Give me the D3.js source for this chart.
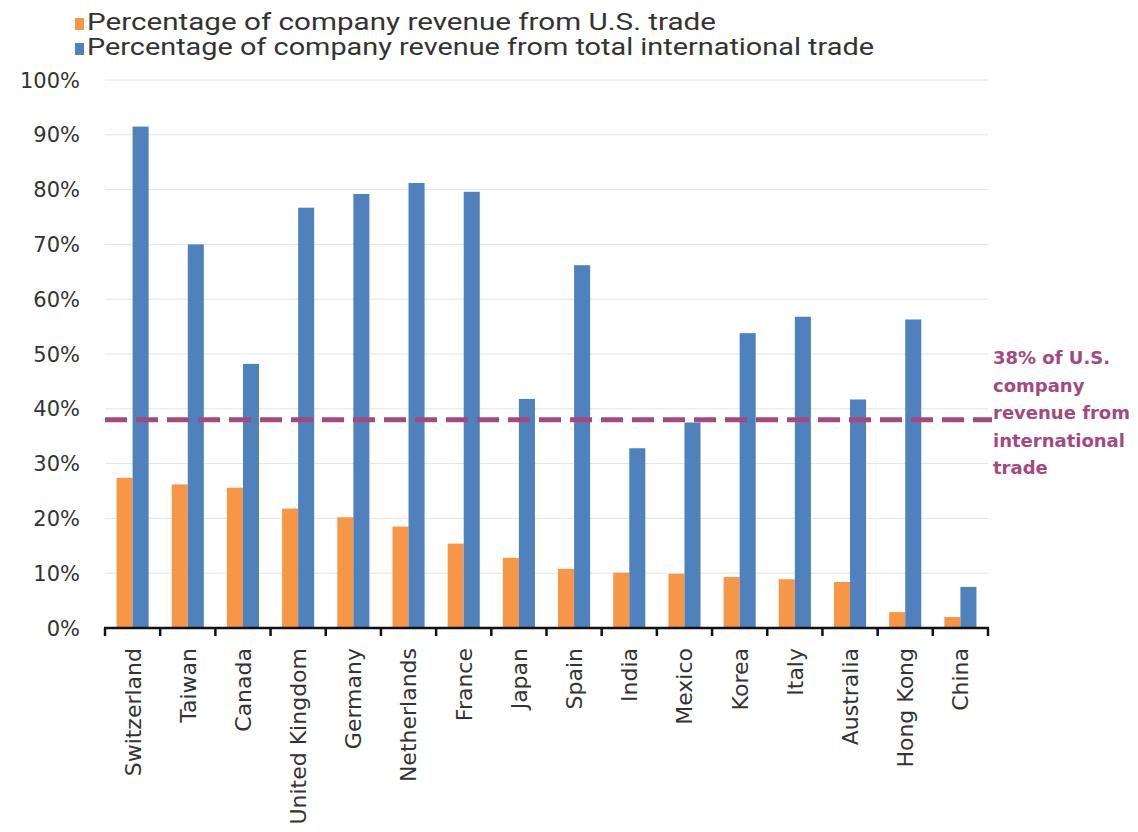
<!DOCTYPE html>
<html>
<head>
<meta charset="utf-8">
<script src="https://cdn.jsdelivr.net/npm/d3@7"></script>
<style>
  body { margin: 0; background: #fff; }
  svg text { fill: #333; }
</style>
</head>
<body>
<svg id="chart" width="1138" height="832"></svg>
<script>
var countries = ["Switzerland", "Taiwan", "Canada", "United Kingdom", "Germany", "Netherlands",
    "France", "Japan", "Spain", "India", "Mexico", "Korea", "Italy", "Australia", "Hong Kong", "China"];
var usTrade = [27.4, 26.2, 25.6, 21.8, 20.2, 18.5, 15.4, 12.8, 10.8, 10.1, 9.9, 9.3, 8.9, 8.4, 2.9, 2.0];
var intlTrade = [91.5, 70.0, 48.2, 76.7, 79.2, 81.2, 79.6, 41.8, 66.2, 32.8, 37.5, 53.8, 56.8, 41.7, 56.3, 7.5];
var seriesNames = ["Percentage of company revenue from U.S. trade",
    "Percentage of company revenue from total international trade"];
var yTicks = [0, 10, 20, 30, 40, 50, 60, 70, 80, 90, 100];
var usAverage = 38;
var noteLines = ["38% of U.S.", "company", "revenue from", "international", "trade"];

var colors = ["#f79646", "#4f81bd"];
var noteColor = "#a4497e";

var svg = d3.select("svg#chart");
var mLeft = 105, mRight = 988, mTop = 80, mBottom = 628;

var x = d3.scaleBand().domain(countries).range([mLeft, mRight]).paddingInner(0).paddingOuter(0);
var sub = d3.scaleBand().domain([0, 1]).range([0, x.bandwidth()]).paddingInner(0).paddingOuter(0.72);
var y = d3.scaleLinear().domain([0, 100]).range([mBottom, mTop]);

// gridlines
svg.append("g")
    .selectAll("line")
    .data(yTicks.slice(1))
    .enter().append("line")
    .attr("x1", mLeft).attr("x2", mRight)
    .attr("y1", function(d) { return y(d); })
    .attr("y2", function(d) { return y(d); })
    .attr("stroke", "#e4e4e4")
    .attr("stroke-width", 1);

// y labels
svg.append("g")
    .selectAll("text")
    .data(yTicks)
    .enter().append("text")
    .attr("x", 80)
    .attr("y", function(d) { return y(d); })
    .attr("dy", "0.36em")
    .attr("text-anchor", "end")
    .style("font-family", "'DejaVu Sans', sans-serif")
    .style("font-size", "21px")
    .text(function(d) { return d + "%"; });

// bars
var rows = countries.map(function(c, i) { return { c: c, vals: [usTrade[i], intlTrade[i]] }; });
var groups = svg.append("g")
    .selectAll("g")
    .data(rows)
    .enter().append("g")
    .attr("transform", function(d) { return "translate(" + x(d.c) + ",0)"; });

groups.selectAll("rect")
    .data(function(d) { return d.vals; })
    .enter().append("rect")
    .attr("x", function(d, i) { return sub(i); })
    .attr("width", sub.bandwidth())
    .attr("y", function(d) { return y(d); })
    .attr("height", function(d) { return mBottom - y(d); })
    .attr("fill", function(d, i) { return colors[i]; });

// reference line
svg.append("line")
    .attr("x1", mLeft).attr("x2", mRight + 4)
    .attr("y1", y(usAverage)).attr("y2", y(usAverage))
    .attr("stroke", noteColor)
    .attr("stroke-width", 5)
    .attr("stroke-dasharray", "22,9");

// x axis
var xAxis = svg.append("g")
    .attr("transform", "translate(0," + mBottom + ")");
xAxis.append("line")
    .attr("x1", mLeft - 1).attr("x2", mRight + 1)
    .attr("stroke", "#111").attr("stroke-width", 2.5);
xAxis.selectAll("line.tick")
    .data(countries.concat(["end"]))
    .enter().append("line")
    .attr("class", "tick")
    .attr("x1", function(d, i) { return mLeft + i * x.step(); })
    .attr("x2", function(d, i) { return mLeft + i * x.step(); })
    .attr("y1", 0).attr("y2", 8)
    .attr("stroke", "#111").attr("stroke-width", 2.5);
xAxis.selectAll("text")
    .data(countries)
    .enter().append("text")
    .attr("transform", function(d) {
        return "translate(" + (x(d) + x.bandwidth() / 2) + ",20) rotate(-90)";
    })
    .attr("dy", "0.36em")
    .attr("text-anchor", "end")
    .style("font-family", "'DejaVu Sans', sans-serif")
    .style("font-size", "22px")
    .text(function(d) { return d; });

svg.append("g")
    .selectAll("text")
    .data(noteLines)
    .enter().append("text")
    .attr("x", 993)
    .attr("y", function(d, i) { return 358 + i * 27.5; })
    .attr("dy", "0.36em")
    .style("font-family", "'DejaVu Sans', sans-serif")
    .style("font-weight", "bold")
    .style("font-size", "18px")
    .style("fill", noteColor)
    .text(function(d) { return d; });

// legend
var legendWidths = [629, 787];
var legend = svg.append("g")
    .selectAll("g")
    .data(seriesNames)
    .enter().append("g")
    .attr("transform", function(d, i) { return "translate(75," + (30 + i * 25) + ")"; });
legend.append("rect")
    .attr("x", 0).attr("y", -12)
    .attr("width", 9).attr("height", 12)
    .attr("fill", function(d, i) { return colors[i]; });
legend.append("text")
    .attr("x", 12)
    .attr("textLength", function(d, i) { return legendWidths[i]; })
    .attr("lengthAdjust", "spacingAndGlyphs")
    .style("font-family", "Roboto, sans-serif")
    .style("font-size", "23px")
    .text(function(d) { return d; });
</script>
</body>
</html>
